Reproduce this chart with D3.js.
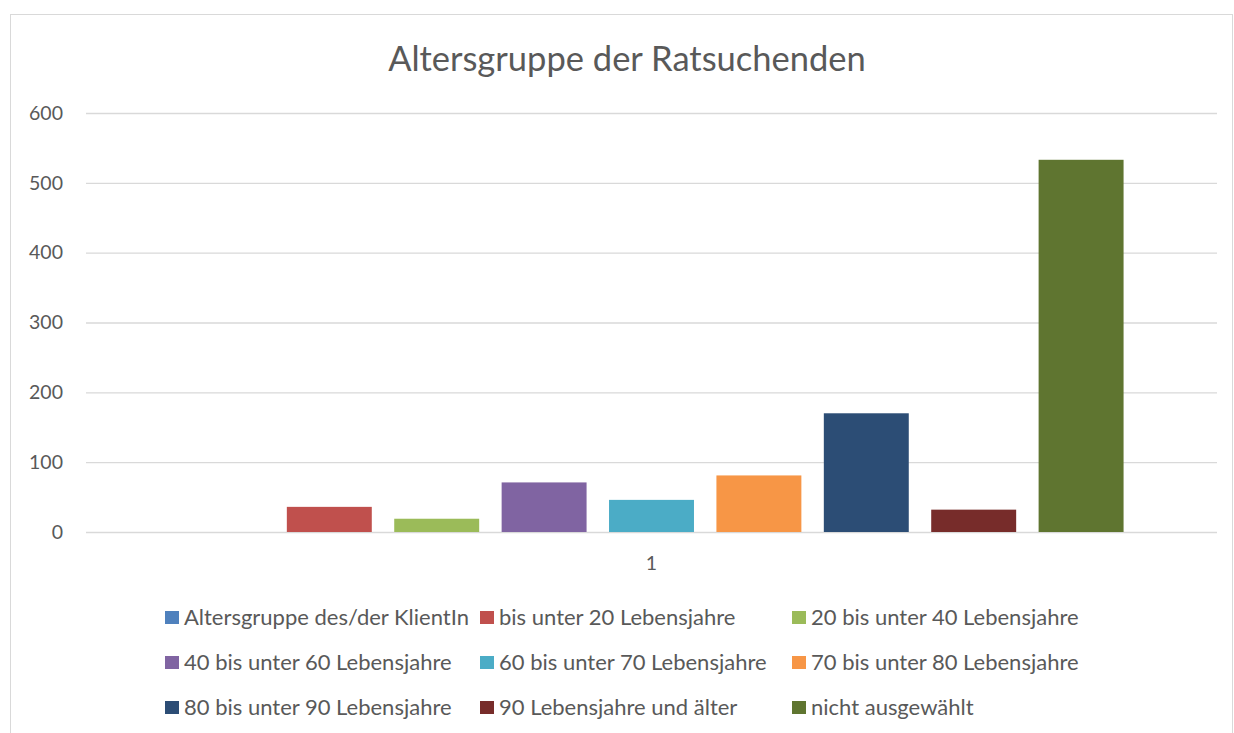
<!DOCTYPE html>
<html><head><meta charset="utf-8">
<script src="https://cdn.jsdelivr.net/npm/d3@7"></script>
<style>body{margin:0;background:#fff;}svg{display:block;}text{font-family:Lato, "Open Sans", sans-serif;fill:#595959;}</style>
</head><body>
<svg id="c" width="1234" height="733"></svg>
<script>
const title = "Altersgruppe der Ratsuchenden";
const categories = ["1"];
const seriesNames = ["Altersgruppe des/der KlientIn","bis unter 20 Lebensjahre","20 bis unter 40 Lebensjahre","40 bis unter 60 Lebensjahre","60 bis unter 70 Lebensjahre","70 bis unter 80 Lebensjahre","80 bis unter 90 Lebensjahre","90 Lebensjahre und älter","nicht ausgewählt"];
const seriesValues = [0, 36, 19, 71, 46, 81, 170, 32, 533];
const seriesColors = ["#4F81BD","#C0504D","#9BBB59","#8064A2","#4BACC6","#F79646","#2C4D75","#772C2A","#5F7530"];
const yTicks = [0,100,200,300,400,500,600];

(function(){
const svg = d3.select("#c");
svg.append("rect").attr("x",10.5).attr("y",14.5).attr("width",1222).attr("height",740)
  .attr("fill","#fff").attr("stroke","#D9D9D9").attr("stroke-width",1);

const pL=86, pR=1217, pT=113, pB=532;
const y = d3.scaleLinear().domain([0,600]).range([pB,pT]);
const x0 = d3.scaleBand().domain(categories).range([pL,pR]);
const x1 = d3.scaleBand().domain(seriesNames).range([0,x0.bandwidth()]).paddingInner(0.209).paddingOuter(0.87);

svg.append("text").attr("x",627).attr("y",71).attr("text-anchor","middle")
  .style("font-size","34.5px").text(title);

const yAxis = svg.append("g").attr("transform",`translate(${pL},0)`)
  .call(d3.axisLeft(y).tickValues(yTicks).tickSize(-(pR-pL)).tickPadding(23));
yAxis.select(".domain").remove();
yAxis.selectAll("line").attr("stroke","#D9D9D9").attr("stroke-width",1.3);
yAxis.selectAll("text").style("font-size","19.5px").attr("fill","#595959");

const xAxis = svg.append("g").attr("transform",`translate(0,${pB})`)
  .call(d3.axisBottom(x0).tickSize(0).tickPadding(24));
xAxis.select(".domain").remove();
xAxis.selectAll("text").style("font-size","19.5px").attr("fill","#595959");

const g = svg.append("g");
categories.forEach(c=>{
  g.selectAll("rect.bar").data(seriesNames.map((s,i)=>({s,v:seriesValues[i],c:seriesColors[i]})))
   .enter().append("rect").attr("class","bar")
   .attr("x",d=>x0(c)+x1(d.s)).attr("width",x1.bandwidth())
   .attr("y",d=>y(d.v)).attr("height",d=>y(0)-y(d.v)).attr("fill",d=>d.c);
});

const colX=[165,480,792], rowY=[617.5,662.5,707.5];
const lg = svg.append("g");
seriesNames.forEach((s,i)=>{
  const cx=colX[i%3], cy=rowY[Math.floor(i/3)];
  lg.append("rect").attr("x",cx).attr("y",cy-6.5).attr("width",14).attr("height",13).attr("fill",seriesColors[i]);
  lg.append("text").attr("x",cx+19).attr("y",cy+7.5).style("font-size","22px").text(s);
});
})();
</script>
</body></html>
